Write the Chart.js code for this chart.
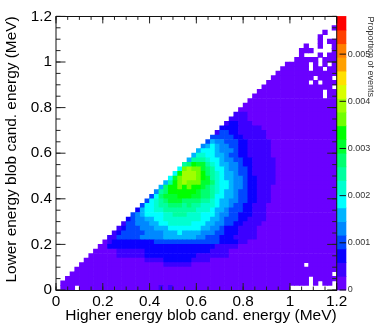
<!DOCTYPE html>
<html>
<head>
<meta charset="utf-8">
<title>Blob candidate energies</title>
<script src="https://cdn.jsdelivr.net/npm/chart.js@4/dist/chart.umd.min.js"></script>
<style>
  html, body { margin: 0; padding: 0; background: #fff; }
  canvas { display: block; }
</style>
</head>
<body>
<canvas id="chart-blobs" width="374" height="330"></canvas>
<script>
(() => {
  "use strict";

  const binWidth = 0.02;
  const axisMax = 1.2;
  const xMajorTicks = [0, 0.2, 0.4, 0.6, 0.8, 1, 1.2];
  const yMajorTicks = [0, 0.2, 0.4, 0.6, 0.8, 1, 1.2];
  const minorStep = 0.05;
  const barMajorTicks = [0, 0.001, 0.002, 0.003, 0.004, 0.005];

  // colour contour of the z axis, lowest first
  const contourStep = 0.00029;
  const palette = [
    "#6a00ff", "#3c00ff", "#0a00ff", "#0048ff", "#0088ff",
    "#00b4ff", "#00ffff", "#00ffd0", "#00ffa0", "#00ff70",
    "#00ff30", "#00ff00", "#70ff00", "#a0ff00", "#d8ff00",
    "#ffe000", "#ffa000", "#ff8000", "#ff4000", "#ff0000",
  ];

  // contour index per cell (base 36), "." = empty bin.
  // first line is the top row (1.18-1.20), columns run along the higher energy, blocks of ten
  const levelRows = [
    ".......... .......... .......... .......... .......... ..........",
    ".......... .......... .......... .......... .......... ..........",
    ".......... .......... .......... .......... .......... .........0",
    ".......... .......... .......... .......... .......... .......0..",
    ".......... .......... .......... .......... .......... ......0...",
    ".......... .......... .......... .......... .......... ......0.00",
    ".......... .......... .......... .......... .......... ...0..0..0",
    ".......... .......... .......... .......... .......... ..000....0",
    ".......... .......... .......... .......... .......... ..0...0.00",
    ".......... .......... .......... .......... .......... .00000.000",
    ".......... .......... .......... .......... .........0 0000.0.0.0",
    ".......... .......... .......... .......... ........00 0000.00.00",
    ".......... .......... .......... .......... .......000 0000000000",
    ".......... .......... .......... .......... ......0000 00000.000.",
    ".......... .......... .......... .......... .....00000 0000.0.000",
    ".......... .......... .......... .......... ....000000 000000000.",
    ".......... .......... .......... .......... ...0000000 0000000.00",
    ".......... .......... .......... .......... ..00000000 0000000.00",
    ".......... .......... .......... .......... .000000000 0000000000",
    ".......... .......... .......... .......... 0000000000 0000000000",
    ".......... .......... .......... .........0 0000000000 0000000000",
    ".......... .......... .......... ........11 1000000000 0000000000",
    ".......... .......... .......... .......111 1000000000 0000000000",
    ".......... .......... .......... ......1221 1100000000 0000000000",
    ".......... .......... .......... .....22221 1111000000 0000000000",
    ".......... .......... .......... ....133221 1111100000 0000000000",
    ".......... .......... .......... ...3333322 1111100000 0000000000",
    ".......... .......... .......... ..35443332 2111110000 0000000000",
    ".......... .......... .......... .456544332 2111110000 0000000000",
    ".......... .......... .......... 5666544432 2111110000 0000000000",
    ".......... .......... .........5 7766554332 2111110000 0000000000",
    ".......... .......... ........58 8876654433 2211111000 0000000000",
    ".......... .......... .......89b aa87655443 2211111000 0000000000",
    ".......... .......... ......6cdc ca98665443 3211111000 0000000000",
    ".......... .......... .....6bddd cb98765543 3211111000 0000000000",
    ".......... .......... ....6acddd cba8765544 3221111000 0000000000",
    ".......... .......... ...58bcdcc caa9766544 3221111000 0000000000",
    ".......... .......... ..59bbcbcb ba98766544 3221110000 0000000000",
    ".......... .......... .489bbbbbb a998765543 3221110000 0000000000",
    ".......... .......... 369aaabbba a998665543 3221110000 0000000000",
    ".......... .........3 6789aaa999 9887655443 3221110000 0000000000",
    ".......... ........36 6788999898 8777655433 2211100000 0000000000",
    ".......... .......256 6778888888 7776554333 2211100000 0000000000",
    ".......... ......3456 6667788877 7666544332 2211100000 0000000000",
    ".......... .....23445 5667777777 7665543332 2111100000 0000000000",
    ".......... ....133444 5566777776 6655443322 1111000000 0000000000",
    ".......... ...1233344 4555666666 6554432221 1110000000 0000000000",
    ".......... ..12333334 4445556555 5444332221 1110000000 0000000000",
    ".......... .113333344 4445555555 4433322211 1110000000 0000000000",
    ".......... 0122222222 2333333333 3333322221 1000000000 0000000000",
    ".........0 0222222222 2222222222 2222111110 0000000000 0000000000",
    "........00 0001111112 2222222222 2221111000 0000000000 0000000000",
    ".......000 0001111112 2222222222 1111111000 0000000000 0000000000",
    "......0000 0000000001 1112222221 1110000000 0000000000 0000000000",
    ".....00000 0000000000 0001111110 0000000000 0000000000 000.000000",
    "....000000 0000000000 0000000000 0000000000 0000000000 0000000000",
    "...0000000 0000000000 0000000000 0000000000 0000000000 000000000.",
    "..00000000 0000000000 0000000000 0000000000 0000000000 0000.00000",
    ".000000000 0000000000 0000000000 0000000000 0000000000 0000.0.00.",
    ".000.00000 0000000000 0010100000 0000000000 0000000000 ..........",
  ];

  const fontFamily = '"Liberation Sans", Arial, sans-serif';

  const cells = [];
  const cellColors = [];
  levelRows.forEach((row, i) => {
    const r = levelRows.length - 1 - i;
    row.replace(/ /g, "").split("").forEach((ch, c) => {
      if (ch === ".") return;
      cells.push({ x: (c + 0.5) * binWidth, y: [r * binWidth, (r + 1) * binWidth] });
      cellColors.push(palette[parseInt(ch, 36)]);
    });
  });

  // the palette strip sits just right of the frame, on the same x scale
  const barCenter = 1.2205;
  const barCells = palette.map((_, k) => ({ x: barCenter, y: [k * contourStep, (k + 1) * contourStep] }));

  function multiples(step, max) {
    const out = [];
    for (let i = 0; i * step <= max + 1e-9; i++) out.push(i * step);
    return out;
  }

  // ROOT style frame: ticks point inwards on all four sides
  const frameTicks = {
    id: "frameTicks",
    afterDatasetsDraw(chart) {
      const { ctx, chartArea: a, scales } = chart;
      ctx.save();
      ctx.strokeStyle = "#222";
      ctx.lineWidth = 1;
      const line = (x1, y1, x2, y2) => {
        ctx.beginPath();
        ctx.moveTo(x1, y1);
        ctx.lineTo(x2, y2);
        ctx.stroke();
      };
      multiples(minorStep, axisMax).forEach((v) => {
        const px = scales.x.getPixelForValue(v);
        const py = scales.y.getPixelForValue(v);
        line(px, a.bottom, px, a.bottom - 3.5);
        line(px, a.top, px, a.top + 3.5);
        line(a.left, py, a.left + 4.5, py);
        line(a.right, py, a.right - 4.5, py);
      });
      xMajorTicks.forEach((v) => {
        const px = scales.x.getPixelForValue(v);
        line(px, a.bottom, px, a.bottom - 7);
        line(px, a.top, px, a.top + 7);
      });
      yMajorTicks.forEach((v) => {
        const py = scales.y.getPixelForValue(v);
        line(a.left, py, a.left + 9.5, py);
        line(a.right, py, a.right - 9.5, py);
      });
      ctx.strokeStyle = "#111";
      ctx.strokeRect(a.left, Math.floor(a.top) + 0.5, a.right - a.left, Math.floor(a.bottom) - Math.floor(a.top));
      barMajorTicks.forEach((v) => {
        const py = scales.yBar.getPixelForValue(v);
        line(346, py, 339.5, py);
      });
      ctx.restore();
    },
  };

  new Chart(document.getElementById("chart-blobs").getContext("2d"), {
    type: "bar",
    data: {
      datasets: [
        {
          data: cells,
          backgroundColor: cellColors,
          borderWidth: 0,
          grouped: false,
          barPercentage: 1,
          categoryPercentage: 1,
          xAxisID: "x",
          yAxisID: "y",
        },
        {
          data: barCells,
          backgroundColor: palette,
          borderWidth: 0,
          grouped: false,
          barThickness: 9,
          clip: false,
          xAxisID: "x",
          yAxisID: "yBar",
        },
      ],
    },
    options: {
      responsive: false,
      animation: false,
      events: [],
      layout: { padding: { top: 16, left: 0, right: 0, bottom: 0 } },
      plugins: { legend: { display: false }, tooltip: { enabled: false } },
      scales: {
        x: {
          type: "linear",
          position: "bottom",
          min: 0,
          max: axisMax,
          offset: false,
          grid: { display: false, offset: false, drawTicks: false },
          border: { display: false },
          ticks: {
            stepSize: 0.2,
            maxRotation: 0,
            autoSkip: false,
            padding: 3,
            color: "#000",
            font: { family: fontFamily, size: 15.3 },
            callback: (v) => String(+v.toFixed(1)),
          },
          title: {
            display: true,
            text: "Higher energy blob cand. energy (MeV)",
            align: "end",
            color: "#000",
            font: { family: fontFamily, size: 15.5 },
            padding: { top: 0, bottom: 5 },
          },
          afterFit: (scale) => { scale.height = 40; },
        },
        y: {
          type: "linear",
          position: "left",
          min: 0,
          max: axisMax,
          grid: { display: false, drawTicks: false },
          border: { display: false },
          ticks: {
            stepSize: 0.2,
            autoSkip: false,
            padding: 4,
            color: "#000",
            font: { family: fontFamily, size: 15.3 },
            callback: (v) => String(+v.toFixed(1)),
          },
          title: {
            display: true,
            text: "Lower energy blob cand. energy (MeV)",
            align: "end",
            color: "#000",
            font: { family: fontFamily, size: 15.4 },
            padding: { top: 3, bottom: 0 },
          },
          afterFit: (scale) => { scale.width = 56; },
        },
        yBar: {
          type: "linear",
          position: "right",
          min: 0,
          max: contourStep * palette.length,
          grid: { display: false, drawTicks: false },
          border: { display: false },
          afterBuildTicks: (scale) => {
            scale.ticks = barMajorTicks.map((value) => ({ value }));
          },
          ticks: {
            autoSkip: false,
            padding: 11,
            color: "#333",
            font: { family: fontFamily, size: 9 },
            callback: (v) => (v === 0 ? "0" : v.toFixed(3)),
          },
          title: {
            display: true,
            text: "Proportion of events",
            align: "end",
            color: "#333",
            font: { family: fontFamily, size: 9 },
            padding: { top: -2, bottom: 0 },
          },
          afterFit: (scale) => { scale.width = 37.3; },
        },
      },
    },
    plugins: [frameTicks],
  });
})();
</script>
</body>
</html>
